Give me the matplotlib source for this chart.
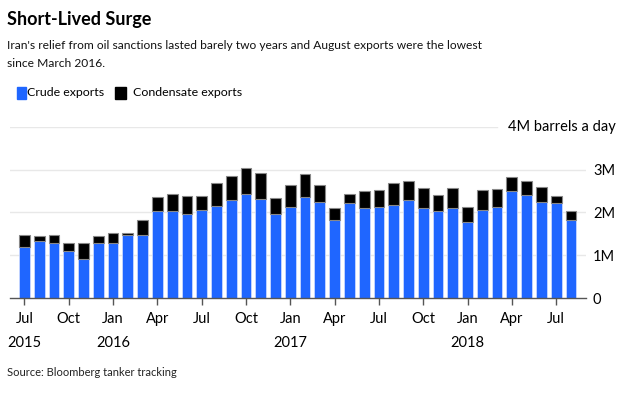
import matplotlib
matplotlib.use("Agg")
import matplotlib.pyplot as plt
import numpy as np

months = ["Jul 2015", "Aug 2015", "Sep 2015", "Oct 2015", "Nov 2015", "Dec 2015",
          "Jan 2016", "Feb 2016", "Mar 2016", "Apr 2016", "May 2016", "Jun 2016",
          "Jul 2016", "Aug 2016", "Sep 2016", "Oct 2016", "Nov 2016", "Dec 2016",
          "Jan 2017", "Feb 2017", "Mar 2017", "Apr 2017", "May 2017", "Jun 2017",
          "Jul 2017", "Aug 2017", "Sep 2017", "Oct 2017", "Nov 2017", "Dec 2017",
          "Jan 2018", "Feb 2018", "Mar 2018", "Apr 2018", "May 2018", "Jun 2018",
          "Jul 2018", "Aug 2018"]

crude = [1.20, 1.32, 1.29, 1.10, 0.92, 1.28,
         1.28, 1.46, 1.46, 2.03, 2.03, 1.96,
         2.05, 2.15, 2.29, 2.43, 2.32, 1.95,
         2.13, 2.37, 2.24, 1.83, 2.21, 2.10,
         2.12, 2.17, 2.28, 2.10, 2.04, 2.10,
         1.77, 2.05, 2.12, 2.50, 2.40, 2.24,
         2.22, 1.82]

total = [1.47, 1.45, 1.47, 1.28, 1.28, 1.45,
         1.52, 1.52, 1.82, 2.36, 2.43, 2.38,
         2.38, 2.68, 2.86, 3.03, 2.92, 2.33,
         2.63, 2.89, 2.65, 2.09, 2.42, 2.50,
         2.52, 2.68, 2.73, 2.56, 2.40, 2.56,
         2.12, 2.52, 2.54, 2.82, 2.73, 2.59,
         2.38, 2.03]

condensate = [round(t - c, 2) for t, c in zip(total, crude)]

tick_idx = [0, 3, 6, 9, 12, 15, 18, 21, 24, 27, 30, 33, 36]
tick_labels = ["Jul", "Oct", "Jan", "Apr", "Jul", "Oct",
               "Jan", "Apr", "Jul", "Oct", "Jan", "Apr", "Jul"]
year_idx = [0, 6, 18, 30]
year_labels = ["2015", "2016", "2017", "2018"]

y_ticks = [0, 1, 2, 3]
y_labels = ["0", "1M", "2M", "3M"]

BLUE = "#1f66ff"
FONT = ["Lato", "Liberation Sans", "DejaVu Sans"]
plt.rcParams["font.family"] = FONT

W, H = 631, 398
fig = plt.figure(figsize=(W / 100, H / 100), dpi=100)
ax = fig.add_axes([10 / W, 1 - 298 / H, 576 / W, (298 - 126.7) / H])

x = np.arange(len(months))
ax.bar(x, crude, width=0.73, color=BLUE, edgecolor="#c8d8ff", linewidth=0.6, zorder=3)
ax.bar(x, condensate, bottom=crude, width=0.73, color="black", edgecolor="#888888",
       linewidth=0.8, zorder=3)

ax.set_xlim(-0.98, len(months) - 1 + 1.02)
ax.set_ylim(0, 4)

for v in [1, 2, 3]:
    ax.axhline(v, color="#e8e8e8", linewidth=1, zorder=1)
ax.axhline(4, xmin=0, xmax=(497 - 10) / 576, color="#e8e8e8", linewidth=1, zorder=1)

for s in ["top", "right", "left"]:
    ax.spines[s].set_visible(False)
ax.spines["bottom"].set_color("#555555")
ax.spines["bottom"].set_linewidth(1)
ax.spines["bottom"].set_zorder(4)

ax.set_xticks(tick_idx)
ax.set_xticklabels(tick_labels, fontsize=10.5, color="black")
ax.tick_params(axis="x", length=5, width=1, color="#555555", pad=5)

for i, yl in zip(year_idx, year_labels):
    ax.annotate(yl, xy=(i, 0), xycoords=("data", "axes fraction"),
                xytext=(0, -45), textcoords="offset pixels",
                ha="center", va="center", fontsize=10.5)

ax.yaxis.tick_right()
ax.set_yticks(y_ticks)
ax.set_yticklabels(y_labels, fontsize=10.5, color="black")
ax.tick_params(axis="y", length=0, pad=5)

fig.text(616 / W, 1 - 126.7 / H, "4M barrels a day", ha="right", va="center",
         fontsize=10.5, color="black")

fig.text(7 / W, 1 - 20 / H, "Short-Lived Surge", ha="left", va="center",
         fontsize=13, fontweight="bold")
fig.text(7 / W, 1 - 45.5 / H,
         "Iran's relief from oil sanctions lasted barely two years and August exports were the lowest",
         ha="left", va="center", fontsize=8.65, color="#111111")
fig.text(7 / W, 1 - 63.5 / H, "since March 2016.",
         ha="left", va="center", fontsize=8.65, color="#111111")

fig.patches.append(plt.Rectangle((17 / W, 1 - 99 / H), 9 / W, 12 / H,
                                 transform=fig.transFigure, color=BLUE))
fig.text(27 / W, 1 - 93 / H, "Crude exports", ha="left", va="center", fontsize=8.9)
fig.patches.append(plt.Rectangle((115 / W, 1 - 99 / H), 11 / W, 12 / H,
                                 transform=fig.transFigure, color="black"))
fig.text(133 / W, 1 - 93 / H, "Condensate exports", ha="left", va="center", fontsize=8.9)

fig.text(7 / W, 1 - 372 / H, "Source: Bloomberg tanker tracking", ha="left", va="center",
         fontsize=8.0, color="#222222")

fig.savefig("out.png", dpi=100, facecolor="white")
